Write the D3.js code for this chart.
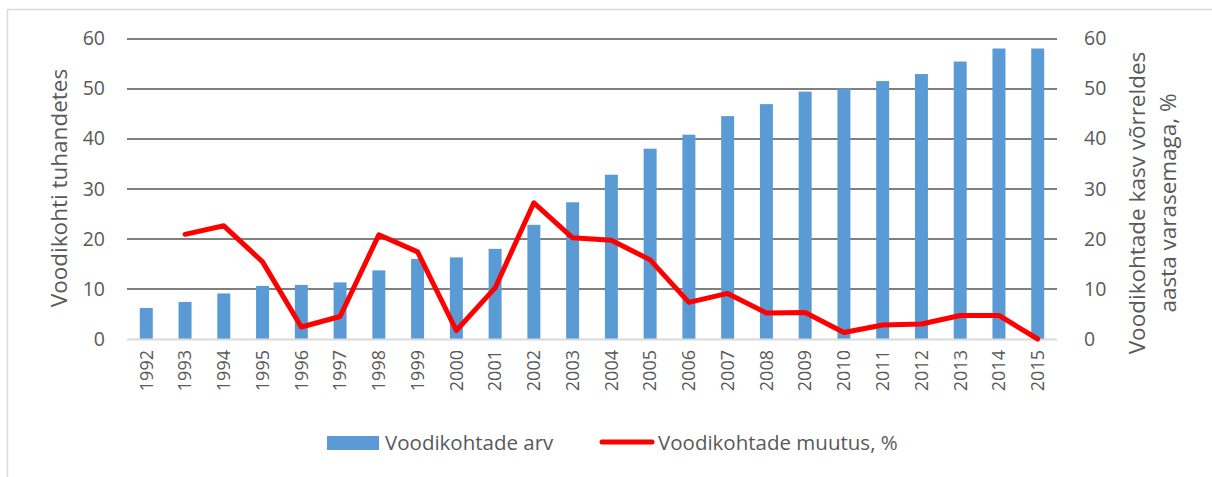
<!DOCTYPE html>
<html>
<head>
<meta charset="utf-8">
<script src="https://cdn.jsdelivr.net/npm/d3@7"></script>
<style>
  body { margin: 0; background: #fff; }
  svg { display: block; font-family: "Open Sans", "Noto Sans", sans-serif; }
  .tick text { fill: #595959; }
</style>
</head>
<body>
<svg id="chart" width="1212" height="477"></svg>
<script>
// Data
const years = ["1992","1993","1994","1995","1996","1997","1998","1999","2000","2001","2002","2003",
               "2004","2005","2006","2007","2008","2009","2010","2011","2012","2013","2014","2015"];
const beds = [6.2, 7.4, 9.1, 10.6, 10.8, 11.3, 13.7, 16.0, 16.3, 18.0, 22.8, 27.3,
              32.8, 38.0, 40.8, 44.5, 46.9, 49.4, 50.0, 51.5, 52.9, 55.4, 58.0, 58.0];
const change = [null, 20.9, 22.6, 15.4, 2.4, 4.5, 20.8, 17.4, 1.7, 10.2, 27.2, 20.2,
                19.7, 15.8, 7.3, 9.1, 5.2, 5.3, 1.3, 2.8, 3.0, 4.7, 4.7, 0];
const yTicks = [0, 10, 20, 30, 40, 50, 60];
const leftTitle = "Voodikohti tuhandetes";
const rightTitle = ["Voodikohtade kasv võrreldes", "aasta varasemaga, %"];
const legendLabels = ["Voodikohtade arv", "Voodikohtade muutus, %"];

const svg = d3.select("#chart");

// Chart border (left and top only visible)
svg.append("path")
    .attr("d", "M7.5,477V9.5H1212")
    .attr("fill", "none")
    .attr("stroke", "#d9d9d9")
    .attr("stroke-width", 1.5);

const margin = { top: 38.5, right: 155, bottom: 138, left: 127 };
const width = 1212 - margin.left - margin.right;
const height = 477 - margin.top - margin.bottom;

const g = svg.append("g")
    .attr("transform", "translate(" + margin.left + "," + margin.top + ")");

// Scales
const x = d3.scaleBand()
    .domain(years)
    .range([0, width])
    .paddingInner(0.665)
    .paddingOuter(0.33);

const y = d3.scaleLinear().domain([0, 60]).range([height, 0]);
const y2 = d3.scaleLinear().domain([0, 60]).range([height, 0]);

// Gridlines
g.append("g")
  .selectAll("line")
  .data(yTicks.filter(d => d > 0))
  .enter().append("line")
    .attr("x1", 0)
    .attr("x2", width)
    .attr("y1", d => Math.round(y(d)) + 0.5)
    .attr("y2", d => Math.round(y(d)) + 0.5)
    .attr("stroke", "#000")
    .attr("stroke-width", 1);

// Bars
g.append("g")
  .selectAll("rect")
  .data(beds)
  .enter().append("rect")
    .attr("x", (d, i) => x(years[i]))
    .attr("y", d => y(d))
    .attr("width", x.bandwidth())
    .attr("height", d => height - y(d))
    .attr("fill", "#5b9bd5");

// Zero axis line
g.append("line")
    .attr("x1", 0)
    .attr("x2", width)
    .attr("y1", height + 0.5)
    .attr("y2", height + 0.5)
    .attr("stroke", "#d9d9d9")
    .attr("stroke-width", 2);

// Line
const line = d3.line()
    .defined(d => d.v !== null)
    .x(d => x(d.year) + x.bandwidth() / 2)
    .y(d => y2(d.v));

g.append("path")
    .datum(years.map((yr, i) => ({ year: yr, v: change[i] })))
    .attr("fill", "none")
    .attr("stroke", "#ff0000")
    .attr("stroke-width", 5)
    .attr("stroke-linejoin", "round")
    .attr("stroke-linecap", "round")
    .attr("d", line);

// Left axis
const leftAxis = g.append("g")
    .call(d3.axisLeft(y).tickValues(yTicks).tickSize(0).tickPadding(22));
leftAxis.select(".domain").remove();
leftAxis.selectAll("text").attr("font-size", 19.5).attr("font-family", "Open Sans, sans-serif");

// Right axis
const rightAxis = g.append("g")
    .attr("transform", "translate(" + width + ",0)")
    .call(d3.axisRight(y2).tickValues(yTicks).tickSize(0).tickPadding(27));
rightAxis.select(".domain").remove();
rightAxis.selectAll("text").attr("font-size", 19.5).attr("font-family", "Open Sans, sans-serif");

// X axis
const xAxis = g.append("g")
    .attr("transform", "translate(0," + height + ")")
    .call(d3.axisBottom(x).tickSize(0));
xAxis.select(".domain").remove();
xAxis.selectAll("text")
    .attr("font-size", 18)
    .attr("font-family", "Open Sans, sans-serif")
    .attr("transform", "rotate(-90)")
    .attr("text-anchor", "end")
    .attr("x", -11)
    .attr("y", 0)
    .attr("dy", "0.35em");

// Axis titles
svg.append("text")
    .attr("transform", "translate(67,188) rotate(-90)")
    .attr("text-anchor", "middle")
    .attr("font-size", 22.5)
    .attr("fill", "#595959")
    .text(leftTitle);

svg.selectAll(".rtitle")
  .data(rightTitle)
  .enter().append("text")
    .attr("class", "rtitle")
    .attr("transform", (d, i) => "translate(" + (1145 + i * 31) + ",203) rotate(-90)")
    .attr("text-anchor", "middle")
    .attr("font-size", 22.5)
    .attr("fill", "#595959")
    .text(d => d);

// Legend
const legend = svg.append("g");
legend.append("rect")
    .attr("x", 327).attr("y", 436)
    .attr("width", 52).attr("height", 14)
    .attr("fill", "#5b9bd5");
legend.append("text")
    .attr("x", 385).attr("y", 450)
    .attr("font-size", 20.5)
    .attr("fill", "#595959")
    .text(legendLabels[0]);
legend.append("line")
    .attr("x1", 602).attr("x2", 652)
    .attr("y1", 442).attr("y2", 442)
    .attr("stroke", "#ff0000")
    .attr("stroke-width", 5)
    .attr("stroke-linecap", "round");
legend.append("text")
    .attr("x", 658).attr("y", 450)
    .attr("font-size", 20.5)
    .attr("fill", "#595959")
    .text(legendLabels[1]);
</script>
</body>
</html>
